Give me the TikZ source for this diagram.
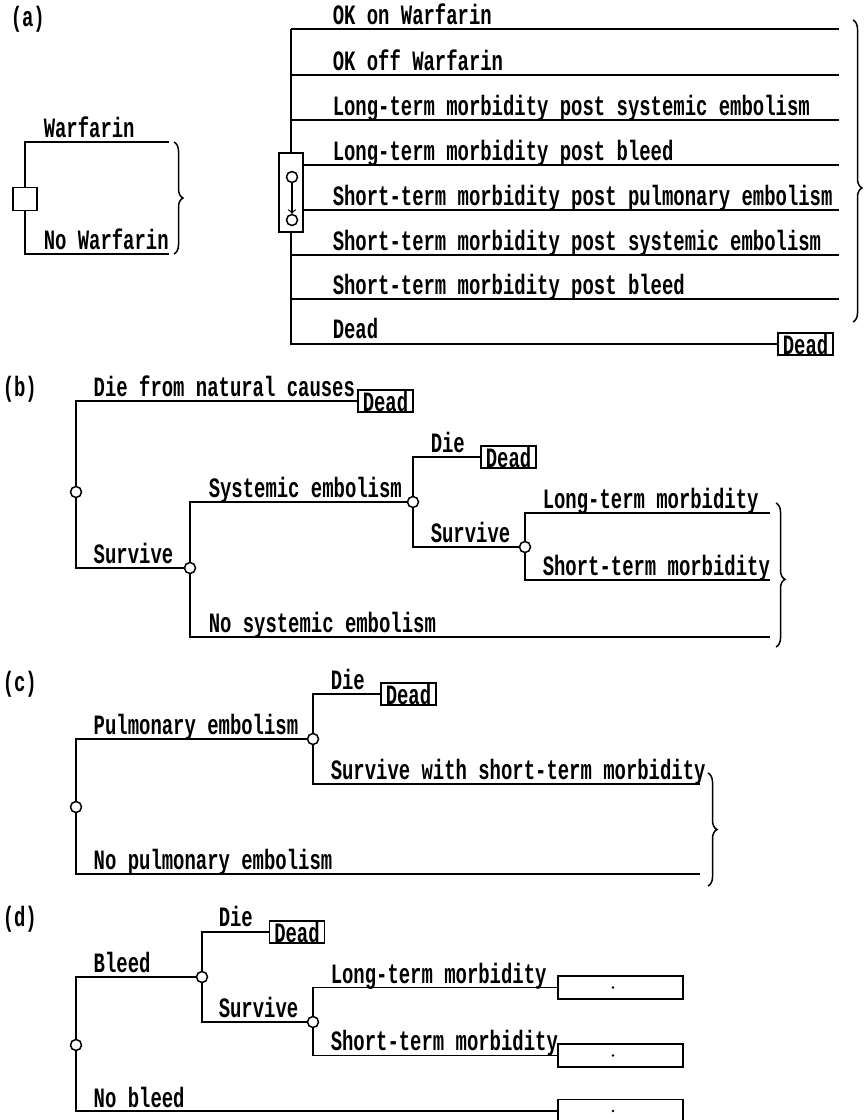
\documentclass[tikz,border=0pt]{standalone}
\usepackage{fontspec}
\setmainfont{Liberation Mono}[FakeStretch=0.676]
\usetikzlibrary{decorations.pathreplacing}

\begin{document}
\begin{tikzpicture}[x=0.5pt,y=-0.5pt,line width=0.75pt,
    every node/.style={font=\fontsize{14}{16}\selectfont\bfseries},
    lab/.style={anchor=base west,inner sep=0pt},
    chance/.style={circle,draw,fill=white,inner sep=0pt,minimum size=5.5pt},
    dead/.style={draw,inner xsep=2.5pt,inner ysep=0pt,minimum height=11pt},
    slot/.style={draw,inner sep=0pt,minimum width=62.5pt,minimum height=11.5pt},
    brc/.style={decorate,decoration={brace,amplitude=4.5pt,aspect=#1}}]
    \useasboundingbox (0,0) rectangle (865,1120);

    % (a) decision
    \node[lab] (pa) at (10,26) {(a)};
    \node[draw,inner sep=0pt,minimum width=12pt,minimum height=11.5pt] (dec) at (25,199) {};
    \coordinate (w1) at (169,142);
    \coordinate (w2) at (169,254);
    \draw (dec.north) |- (w1);
    \draw (dec.south) |- (w2);
    \node[lab] (wt1) at (43,137) {Warfarin};
    \node[lab] (wt2) at (43,249) {No Warfarin};
    \draw[brc=0.5] (174,142) -- (174,254);

    % (a) Markov states
    \node[draw,fill=white,inner sep=0pt,minimum width=12pt,minimum height=39.5pt] (mk) at (291,192.5) {};
    \node[chance] (mk1) at (292,177) {};
    \node[chance] (mk2) at (292,220) {};
    \draw[->,line width=0.6pt] (mk1) -- (mk2);
    \foreach \i/\y/\txt in {1/29/OK on Warfarin,2/75/OK off Warfarin,
        3/120/Long-term morbidity post systemic embolism,4/165/Long-term morbidity post bleed,
        5/210/Short-term morbidity post pulmonary embolism,6/255/Short-term morbidity post systemic embolism,
        7/299/Short-term morbidity post bleed} {
        \coordinate (r\i) at (839,\y);
        \node[lab] (rt\i) at (332,\y-5) {\txt};
    }
    \foreach \i/\a in {1/center,2/center,3/center,4/east,5/east,6/center,7/center}
        \draw (mk.\a |- r\i) -- (r\i);
    \node[dead] (ad) at (805.5,344) {Dead};
    \node[lab] (rt8) at (332,338) {Dead};
    \draw (mk.north) -- (mk.center |- r1);
    \draw (mk.south) |- (ad.west);
    \draw[brc=0.556] (853,20) -- (853,322);

    % (b) natural death and systemic embolism
    \node[lab] (pb) at (2,396) {(b)};
    \node[chance] (b0) at (76,492) {};
    \node[dead] (bd1) at (385.5,401) {Dead};
    \node[chance] (b1) at (190,568) {};
    \node[chance] (b2) at (413,502) {};
    \node[dead] (bd2) at (508.5,457) {Dead};
    \node[chance] (b3) at (525,547) {};
    \coordinate (b4) at (770,513);
    \coordinate (b5) at (770,580);
    \coordinate (b6) at (770,637);
    \draw (b0.north) |- (bd1.west);
    \draw (b0.south) |- (b1.west);
    \draw (b1.north) |- (b2.west);
    \draw (b1.south) |- (b6);
    \draw (b2.north) |- (bd2.west);
    \draw (b2.south) |- (b3.west);
    \draw (b3.north) |- (b4);
    \draw (b3.south) |- (b5);
    \node[lab] (bt1) at (93,396) {Die from natural causes};
    \node[lab] (bt2) at (93,563) {Survive};
    \node[lab] (bt3) at (208,497) {Systemic embolism};
    \node[lab] (bt4) at (208,632) {No systemic embolism};
    \node[lab] (bt5) at (430,452) {Die};
    \node[lab] (bt6) at (430,542) {Survive};
    \node[lab] (bt7) at (542,508) {Long-term morbidity};
    \node[lab] (bt8) at (542,575) {Short-term morbidity};
    \draw[brc=0.53] (776,503) -- (776,647);

    % (c) pulmonary embolism
    \node[lab] (pc) at (2,691) {(c)};
    \node[chance] (c0) at (76,807) {};
    \node[chance] (c1) at (313,739) {};
    \node[dead] (cd1) at (408.5,694) {Dead};
    \coordinate (c2) at (700,784);
    \coordinate (c3) at (700,874);
    \draw (c0.north) |- (c1.west);
    \draw (c0.south) |- (c3);
    \draw (c1.north) |- (cd1.west);
    \draw (c1.south) |- (c2);
    \node[lab] (ct1) at (93,734) {Pulmonary embolism};
    \node[lab] (ct2) at (93,869) {No pulmonary embolism};
    \node[lab] (ct3) at (330,689) {Die};
    \node[lab] (ct4) at (330,779) {Survive with short-term morbidity};
    \draw[brc=0.5] (708,773) -- (708,886);

    % (d) bleed
    \node[lab] (pd) at (2,926) {(d)};
    \node[chance] (d0) at (76,1045) {};
    \node[chance] (d1) at (202,977) {};
    \node[dead] (dd1) at (297,932) {Dead};
    \node[chance] (d2) at (313,1022) {};
    \foreach \i/\y in {1/987.5,2/1055.5,3/1111} {
        \node[slot] (e\i) at (620.5,\y) {};
        \fill (e\i.center) ++(-7.5,0) circle (0.7pt);
    }
    \draw (d0.north) |- (d1.west);
    \draw (d0.south) |- (e3.west);
    \draw (d1.north) |- (dd1.west);
    \draw (d1.south) |- (d2.west);
    \draw (d2.north) |- (e1.west);
    \draw (d2.south) |- (e2.west);
    \node[lab] (dt1) at (93,972) {Bleed};
    \node[lab] (dt2) at (93,1107) {No bleed};
    \node[lab] (dt3) at (218,926) {Die};
    \node[lab] (dt4) at (218,1017) {Survive};
    \node[lab] (dt5) at (330,983) {Long-term morbidity};
    \node[lab] (dt6) at (330,1050) {Short-term morbidity};

\end{tikzpicture}
\end{document}
